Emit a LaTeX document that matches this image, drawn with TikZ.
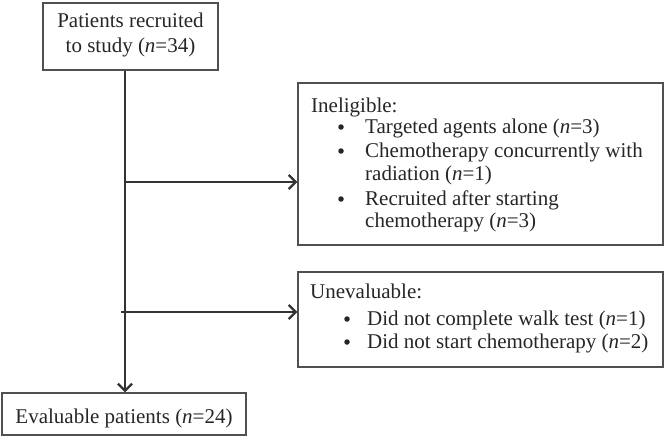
\documentclass[tikz,border=0pt]{standalone}
\usepackage{fontspec}
\setmainfont{Liberation Serif}
\usetikzlibrary{arrows.meta}
\definecolor{linec}{HTML}{333333}
\definecolor{boxc}{HTML}{505050}
\begin{document}
\begin{tikzpicture}[x=1pt,y=-1pt,
  box/.style={draw=boxc,line width=1.5pt,inner sep=0pt},
  txt/.style={anchor=base west,inner sep=0pt,text=black!85,font=\fontsize{21}{25}\selectfont},
  ctxt/.style={txt,anchor=base},
  bul/.style={circle,fill=black!85,inner sep=0pt,minimum size=5.5pt},
  flow/.style={draw=linec,line width=2.8pt,-{Straight Barb[length=7pt,width=14pt,line width=2.2pt]}}]
\useasboundingbox (0,0) rectangle (667,436);
% boxes
\node[box,minimum width=175pt,minimum height=67pt] (top) at (130.5,36.5) {};
\node[box,minimum width=365pt,minimum height=162pt] (inel) at (480.5,164) {};
\node[box,minimum width=365pt,minimum height=95pt] (unev) at (480.5,319.5) {};
\node[box,minimum width=244pt,minimum height=42pt] (bot) at (124,414) {};
% texts
\node[ctxt] (t1) at (130.5,28) {Patients recruited};
\node[ctxt] (t2) at (130.5,53) {to study (\textit{n}=34)};
\node[txt] (i0) at (311,112) {Ineligible:};
\node[bul] (ib1) at (341,127) {};
\node[txt] (i1) at (365,133) {Targeted agents alone (\textit{n}=3)};
\node[bul] (ib2) at (341,151) {};
\node[txt] (i2) at (365,157) {Chemotherapy concurrently with};
\node[txt] (i3) at (365,180) {radiation (\textit{n}=1)};
\node[bul] (ib3) at (341,199) {};
\node[txt] (i4) at (365,205) {Recruited after starting};
\node[txt] (i5) at (365,227) {chemotherapy (\textit{n}=3)};
\node[txt] (u0) at (310,298) {Unevaluable:};
\node[bul] (ub1) at (347,319) {};
\node[txt] (u1) at (367,325) {Did not complete walk test (\textit{n}=1)};
\node[bul] (ub2) at (347,342) {};
\node[txt] (u2) at (367,348) {Did not start chemotherapy (\textit{n}=2)};
\node[ctxt] (b0) at (124,423) {Evaluable patients (\textit{n}=24)};
% connectors
\coordinate (v) at (125,0);
\coordinate (b1) at (125,182);
\coordinate (b2) at (121,312);
\draw[flow] (v |- top.south) -- (v |- bot.north);
\draw[flow] (b1) -- (b1 -| inel.west);
\draw[flow] (b2) -- (b2 -| unev.west);
\end{tikzpicture}
\end{document}
